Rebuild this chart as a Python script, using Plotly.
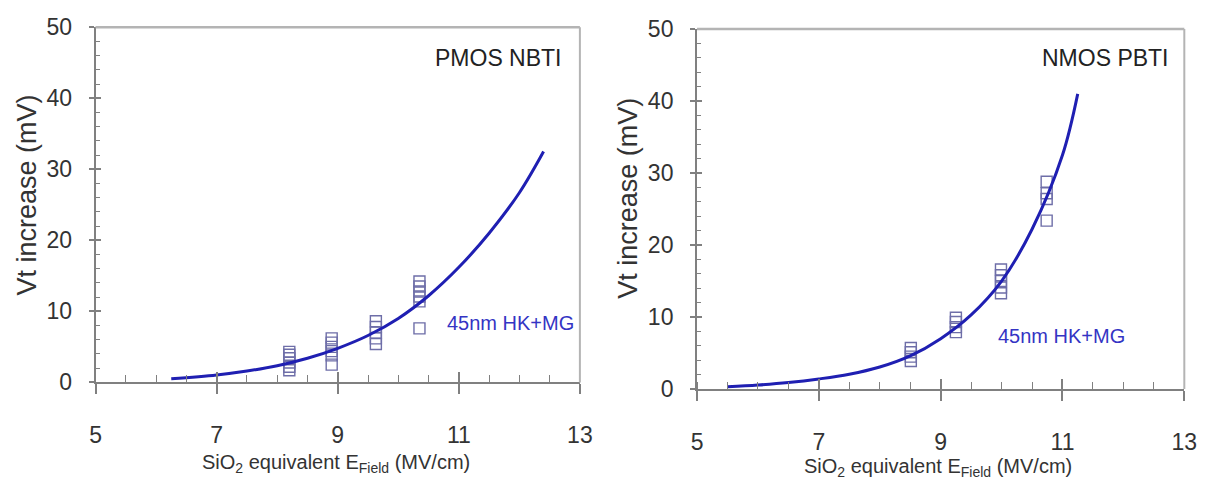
import plotly.graph_objects as go

# Measured threshold-voltage shift vs. SiO2-equivalent field (45nm HK+MG)
nbti_field = [8.2, 8.2, 8.2, 8.2, 8.2, 8.2,
              8.9, 8.9, 8.9, 8.9, 8.9, 8.9,
              9.63, 9.63, 9.63, 9.63, 9.63,
              10.35, 10.35, 10.35, 10.35, 10.35, 10.35]
nbti_dvt = [1.7, 2.2, 2.8, 3.4, 3.9, 4.3,
            2.5, 3.8, 4.4, 5.0, 5.6, 6.2,
            5.4, 6.2, 7.0, 7.8, 8.6,
            7.6, 11.4, 12.1, 12.8, 13.5, 14.2]

pbti_field = [8.51, 8.51, 8.51, 8.51,
              9.25, 9.25, 9.25, 9.25,
              9.99, 9.99, 9.99, 9.99, 9.99,
              10.74, 10.74, 10.74, 10.74]
pbti_dvt = [3.9, 4.5, 5.1, 5.7,
            7.9, 8.6, 9.3, 9.9,
            13.3, 14.1, 15.0, 15.8, 16.6,
            23.4, 26.4, 27.2, 28.8]

# Model curves
nbti_fit_x = [6.25, 7.0, 7.5, 8.0, 8.5, 9.0, 9.5, 10.0, 10.5, 11.0, 11.5, 12.0, 12.4]
nbti_fit_y = [0.5, 1.05, 1.6, 2.35, 3.4, 4.8, 6.6, 9.0, 12.2, 16.2, 21.0, 26.7, 32.5]
pbti_fit_x = [5.5, 6.0, 6.5, 7.0, 7.5, 8.0, 8.5, 9.0, 9.5, 10.0, 10.5, 11.0, 11.25]
pbti_fit_y = [0.3, 0.55, 0.9, 1.4, 2.05, 3.05, 4.6, 7.0, 10.3, 15.0, 22.2, 32.5, 41.0]

x_ticks = [5, 7, 9, 11, 13]
y_ticks = [0, 10, 20, 30, 40, 50]

FONT = "Liberation Sans, Arial, Helvetica, sans-serif"
TXT = "#333333"
LINE_BLUE = "#1f1fb2"
MARK = "#6e6ea8"
AXIS = "#808080"
FRAME = "#b4b4b4"

fig = go.Figure()

panels = [
    ("x", "y", nbti_field, nbti_dvt, nbti_fit_x, nbti_fit_y),
    ("x2", "y2", pbti_field, pbti_dvt, pbti_fit_x, pbti_fit_y),
]
for xa, ya, fx, fy, cx, cy in panels:
    fig.add_trace(go.Scatter(
        x=fx, y=fy, mode="markers", xaxis=xa, yaxis=ya,
        marker=dict(symbol="square-open", size=11, color=MARK,
                    line=dict(width=1.4, color=MARK)),
        showlegend=False, hoverinfo="skip"))
    fig.add_trace(go.Scatter(
        x=cx, y=cy, mode="lines", xaxis=xa, yaxis=ya,
        line=dict(color=LINE_BLUE, width=3, shape="spline", smoothing=1.0),
        showlegend=False, hoverinfo="skip"))

# empty traces so the inner-tick overlay axes are drawn
for xa, ya in [("x3", "y"), ("x", "y3"), ("x4", "y2"), ("x2", "y4")]:
    fig.add_trace(go.Scatter(x=[], y=[], xaxis=xa, yaxis=ya,
                             showlegend=False, hoverinfo="skip"))

dom = {
    "x": [91 / 1217, 583 / 1217], "y": [1 - 390 / 492, 1 - 15 / 492],
    "x2": [702 / 1217, 1197 / 1217], "y2": [1 - 397 / 492, 1 - 17 / 492],
}


def xaxis_main(d, anchor):
    return dict(domain=d, anchor=anchor, range=[5, 13], tickvals=x_ticks,
                ticks="outside", ticklen=10, tickwidth=1.5, tickcolor=AXIS,
                showline=True, linecolor=AXIS, linewidth=2,
                showgrid=False, zeroline=False,
                tickfont=dict(family=FONT, size=23, color=TXT),
                ticklabelstandoff=21,
                minor=dict(ticks="inside", dtick=0.5, tick0=5, ticklen=7,
                           tickwidth=1.2, tickcolor=AXIS))


def yaxis_main(d, anchor):
    return dict(domain=d, anchor=anchor, range=[0, 50], tickvals=y_ticks,
                ticks="outside", ticklen=5, tickwidth=1.5, tickcolor=AXIS,
                showline=True, linecolor=AXIS, linewidth=2,
                showgrid=False, zeroline=False,
                tickfont=dict(family=FONT, size=23, color=TXT),
                ticklabelstandoff=12,
                minor=dict(ticks="inside", dtick=2, tick0=0, ticklen=4,
                           tickwidth=1.2, tickcolor=AXIS))


def xaxis_inner(over, anchor):
    return dict(overlaying=over, anchor=anchor, side="bottom", range=[5, 13],
                tickvals=x_ticks, ticks="inside", ticklen=10, tickwidth=1.5,
                tickcolor=AXIS, showticklabels=False, showline=False,
                showgrid=False, zeroline=False)


def yaxis_inner(over, anchor):
    return dict(overlaying=over, anchor=anchor, side="left", range=[0, 50],
                tickvals=y_ticks, ticks="inside", ticklen=5, tickwidth=1.5,
                tickcolor=AXIS, showticklabels=False, showline=False,
                showgrid=False, zeroline=False)


fig.update_layout(
    width=1217, height=492,
    margin=dict(l=0, r=0, t=0, b=0),
    paper_bgcolor="white", plot_bgcolor="white",
    xaxis=xaxis_main(dom["x"], "y"),
    yaxis=yaxis_main(dom["y"], "x"),
    xaxis2=xaxis_main(dom["x2"], "y2"),
    yaxis2=yaxis_main(dom["y2"], "x2"),
    xaxis3=xaxis_inner("x", "y"),
    yaxis3=yaxis_inner("y", "x"),
    xaxis4=xaxis_inner("x2", "y2"),
    yaxis4=yaxis_inner("y2", "x2"),
)

# light top / right frame lines
for xr, yr in [("x domain", "y domain"), ("x2 domain", "y2 domain")]:
    fig.add_shape(type="line", xref=xr, yref=yr, x0=0, x1=1, y0=1, y1=1,
                  line=dict(color=FRAME, width=2.5))
    fig.add_shape(type="line", xref=xr, yref=yr, x0=1, x1=1, y0=0, y1=1,
                  line=dict(color=FRAME, width=2))

ann = []
# panel titles
ann.append(dict(xref="x", yref="y", x=12.74, y=45.6, text="PMOS NBTI",
                xanchor="right", yanchor="middle", showarrow=False,
                font=dict(family=FONT, size=23, color="#222222")))
ann.append(dict(xref="x2", yref="y2", x=12.78, y=46.0, text="NMOS PBTI",
                xanchor="right", yanchor="middle", showarrow=False,
                font=dict(family=FONT, size=23, color="#222222")))
# technology labels
ann.append(dict(xref="x", yref="y", x=10.78, y=8.4, text="45nm HK+MG",
                xanchor="left", yanchor="middle", showarrow=False,
                font=dict(family=FONT, size=20, color="#3434c4")))
ann.append(dict(xref="x2", yref="y2", x=9.91, y=7.4, text="45nm HK+MG",
                xanchor="left", yanchor="middle", showarrow=False,
                font=dict(family=FONT, size=20, color="#3434c4")))
# axis titles
x_title = "SiO<sub>2</sub> equivalent E<sub>Field</sub> (MV/cm)"
ann.append(dict(xref="paper", yref="paper", x=335 / 1217, y=1 - 476 / 492,
                text=x_title, showarrow=False, xanchor="center", yanchor="middle",
                font=dict(family=FONT, size=20, color=TXT)))
ann.append(dict(xref="paper", yref="paper", x=947 / 1217, y=1 - 480 / 492,
                text=x_title, showarrow=False, xanchor="center", yanchor="middle",
                font=dict(family=FONT, size=20, color=TXT)))
ann.append(dict(xref="paper", yref="paper", x=21 / 1217, y=1 - 192 / 492,
                text="Vt increase (mV)", textangle=-90, showarrow=False,
                xanchor="center", yanchor="middle",
                font=dict(family=FONT, size=27, color=TXT)))
ann.append(dict(xref="paper", yref="paper", x=632 / 1217, y=1 - 196 / 492,
                text="Vt increase (mV)", textangle=-90, showarrow=False,
                xanchor="center", yanchor="middle",
                font=dict(family=FONT, size=27, color=TXT)))
fig.update_layout(annotations=ann)

fig.write_html("out.html")
